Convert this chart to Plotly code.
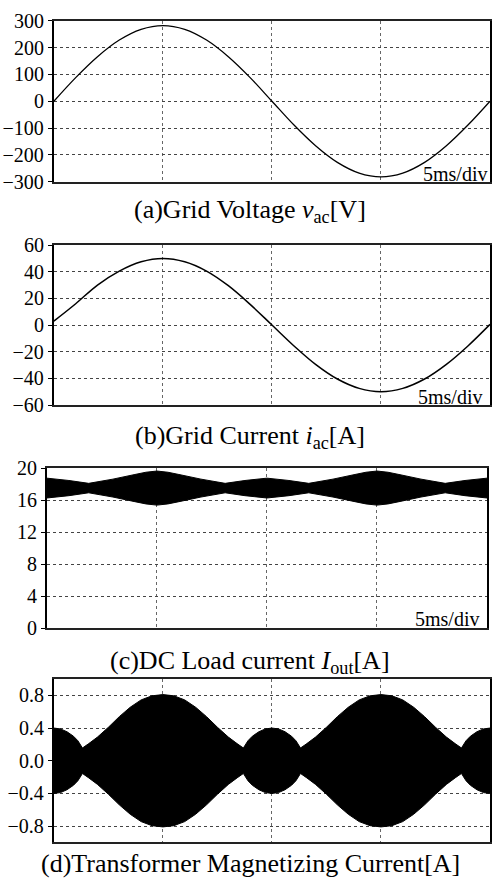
import plotly.graph_objects as go

W, H = 492, 890
FONT = "Liberation Serif, Times New Roman, serif"

# ---------------- data ----------------
t_ms = [0, 1, 2, 3, 4, 5, 6, 7, 8, 9, 10, 11, 12, 13, 14, 15, 16, 17, 18, 19, 20]
v_ac = [0, 88, 166, 228, 268, 282, 268, 228, 166, 88, 0,
        -88, -166, -228, -268, -282, -268, -228, -166, -88, 0]
i_ac = [3, 16, 30, 40.5, 47.5, 50, 47.5, 40.5, 29.5, 15.5, 0,
        -15.5, -29.5, -40.5, -47.5, -50, -47.5, -40.5, -29.5, -15.5, 0.5]

t_c = [0, 1, 1.9, 3, 4, 4.5, 5, 5.5, 6, 7, 8.1, 9, 10, 11, 11.9, 13, 14, 14.5,
       15, 15.5, 16, 17, 18.1, 19, 20]
iout_upper = [18.78, 18.49, 18.13, 18.66, 19.24, 19.52, 19.67, 19.52, 19.24, 18.66,
              18.13, 18.49, 18.78, 18.49, 18.13, 18.66, 19.24, 19.52, 19.67, 19.52,
              19.24, 18.66, 18.13, 18.49, 18.78]
iout_lower = [16.30, 16.59, 16.95, 16.42, 15.84, 15.56, 15.41, 15.56, 15.84, 16.42,
              16.95, 16.59, 16.30, 16.59, 16.95, 16.42, 15.84, 15.56, 15.41, 15.56,
              15.84, 16.42, 16.95, 16.59, 16.30]

t_d = [0, 0.3, 0.6, 0.9, 1.1, 1.31, 1.6, 2.0, 2.5, 3.0, 3.5, 4.0, 4.5, 5.0,
       5.5, 6.0, 6.5, 7.0, 7.5, 8.0, 8.4, 8.69, 8.9, 9.1, 9.4, 9.7, 10.0,
       10.3, 10.6, 10.9, 11.1, 11.31, 11.6, 12.0, 12.5, 13.0, 13.5, 14.0, 14.5, 15.0,
       15.5, 16.0, 16.5, 17.0, 17.5, 18.0, 18.4, 18.69, 18.9, 19.1, 19.4, 19.7, 20.0]
im_upper = [0.40, 0.39, 0.355, 0.30, 0.245, 0.156, 0.21, 0.29, 0.41, 0.54, 0.655, 0.745, 0.795, 0.81,
            0.795, 0.745, 0.655, 0.54, 0.41, 0.29, 0.21, 0.156, 0.245, 0.30, 0.355, 0.39, 0.40,
            0.39, 0.355, 0.30, 0.245, 0.156, 0.21, 0.29, 0.41, 0.54, 0.655, 0.745, 0.795, 0.81,
            0.795, 0.745, 0.655, 0.54, 0.41, 0.29, 0.21, 0.156, 0.245, 0.30, 0.355, 0.39, 0.40]
im_lower = [-v for v in im_upper]

titles = ["(a)Grid Voltage <i>v</i><sub>ac</sub>[V]",
          "(b)Grid Current <i>i</i><sub>ac</sub>[A]",
          "(c)DC Load current <i>I</i><sub>out</sub>[A]",
          "(d)Transformer Magnetizing Current[A]"]
div_label = "5ms/div"

# ---------------- layout geometry (pixels) ----------------
def px(x):
    return x / W

def py(y):
    return 1 - y / H

panels = [  # left, right, top, bottom (px)
    (54, 491, 10, 175),
    (54, 491, 240, 404),
    (47, 488, 469, 633),
    (54, 491, 685, 852.5),
]
yranges = [[-300, 300], [-60, 60], [0, 20], [-1, 1]]
ytickvals = [[-300, -200, -100, 0, 100, 200, 300],
             [-60, -40, -20, 0, 20, 40, 60],
             [0, 4, 8, 12, 16, 20],
             [-0.8, -0.4, 0.0, 0.4, 0.8]]
ytickfmt = ["d", "d", "d", ".1f"]
title_y = [205, 437, 668, 874]

fig = go.Figure()

fig.add_trace(go.Scatter(x=t_ms, y=v_ac, mode="lines", line=dict(color="black", width=1.3, shape="spline"),
                         xaxis="x", yaxis="y", showlegend=False))
fig.add_trace(go.Scatter(x=t_ms, y=i_ac, mode="lines", line=dict(color="black", width=1.5, shape="spline"),
                         xaxis="x2", yaxis="y2", showlegend=False))
fig.add_trace(go.Scatter(x=t_c, y=iout_lower, mode="lines", line=dict(color="black", width=1),
                         xaxis="x3", yaxis="y3", showlegend=False))
fig.add_trace(go.Scatter(x=t_c, y=iout_upper, mode="lines", line=dict(color="black", width=1),
                         fill="tonexty", fillcolor="black", xaxis="x3", yaxis="y3", showlegend=False))
fig.add_trace(go.Scatter(x=t_d, y=im_lower, mode="lines", line=dict(color="black", width=1),
                         xaxis="x4", yaxis="y4", showlegend=False))
fig.add_trace(go.Scatter(x=t_d, y=im_upper, mode="lines", line=dict(color="black", width=1),
                         fill="tonexty", fillcolor="black", xaxis="x4", yaxis="y4", showlegend=False))

layout = dict(
    width=W, height=H, margin=dict(l=0, r=0, t=0, b=0),
    paper_bgcolor="white", plot_bgcolor="white",
    font=dict(family=FONT, color="black"),
    showlegend=False,
)

annotations = []
for k, (l, r, t, b) in enumerate(panels):
    sx = "" if k == 0 else str(k + 1)
    layout["xaxis" + sx] = dict(
        domain=[px(l), px(r)], range=[0, 20], anchor="y" + sx,
        tickvals=[5, 10, 15], showticklabels=False, ticks="",
        showgrid=True, gridcolor="#666666", gridwidth=1.3, griddash="dot",
        showline=True, linecolor="#222222", linewidth=1.5, mirror=True, zeroline=False,
    )
    layout["yaxis" + sx] = dict(
        domain=[py(b), py(t)], range=yranges[k], anchor="x" + sx,
        tickvals=ytickvals[k], tickformat=ytickfmt[k],
        ticks="outside", ticklen=4, tickwidth=1, tickcolor="black",
        tickfont=dict(family=FONT, size=20, color="black"),
        showgrid=True, gridcolor="#444444", gridwidth=1, griddash="dot",
        showline=True, linecolor="black", linewidth=2, mirror=True, zeroline=False,
    )
    annotations.append(dict(
        text=titles[k], xref="paper", yref="paper", x=px(251), y=py(title_y[k]),
        xanchor="center", yanchor="middle", showarrow=False,
        font=dict(family=FONT, size=26, color="black"),
    ))

div_pos = [(490, 175), (485, 404), (482, 632)]
for (x, y) in div_pos:
    annotations.append(dict(
        text=div_label, xref="paper", yref="paper", x=px(x), y=py(y),
        xanchor="right", yanchor="bottom", yshift=-5, showarrow=False,
        font=dict(family=FONT, size=20, color="black"),
    ))

layout["annotations"] = annotations
fig.update_layout(**layout)
fig.write_html("out.html", config={"displayModeBar": False},
               post_script="document.body.style.margin='0';")
